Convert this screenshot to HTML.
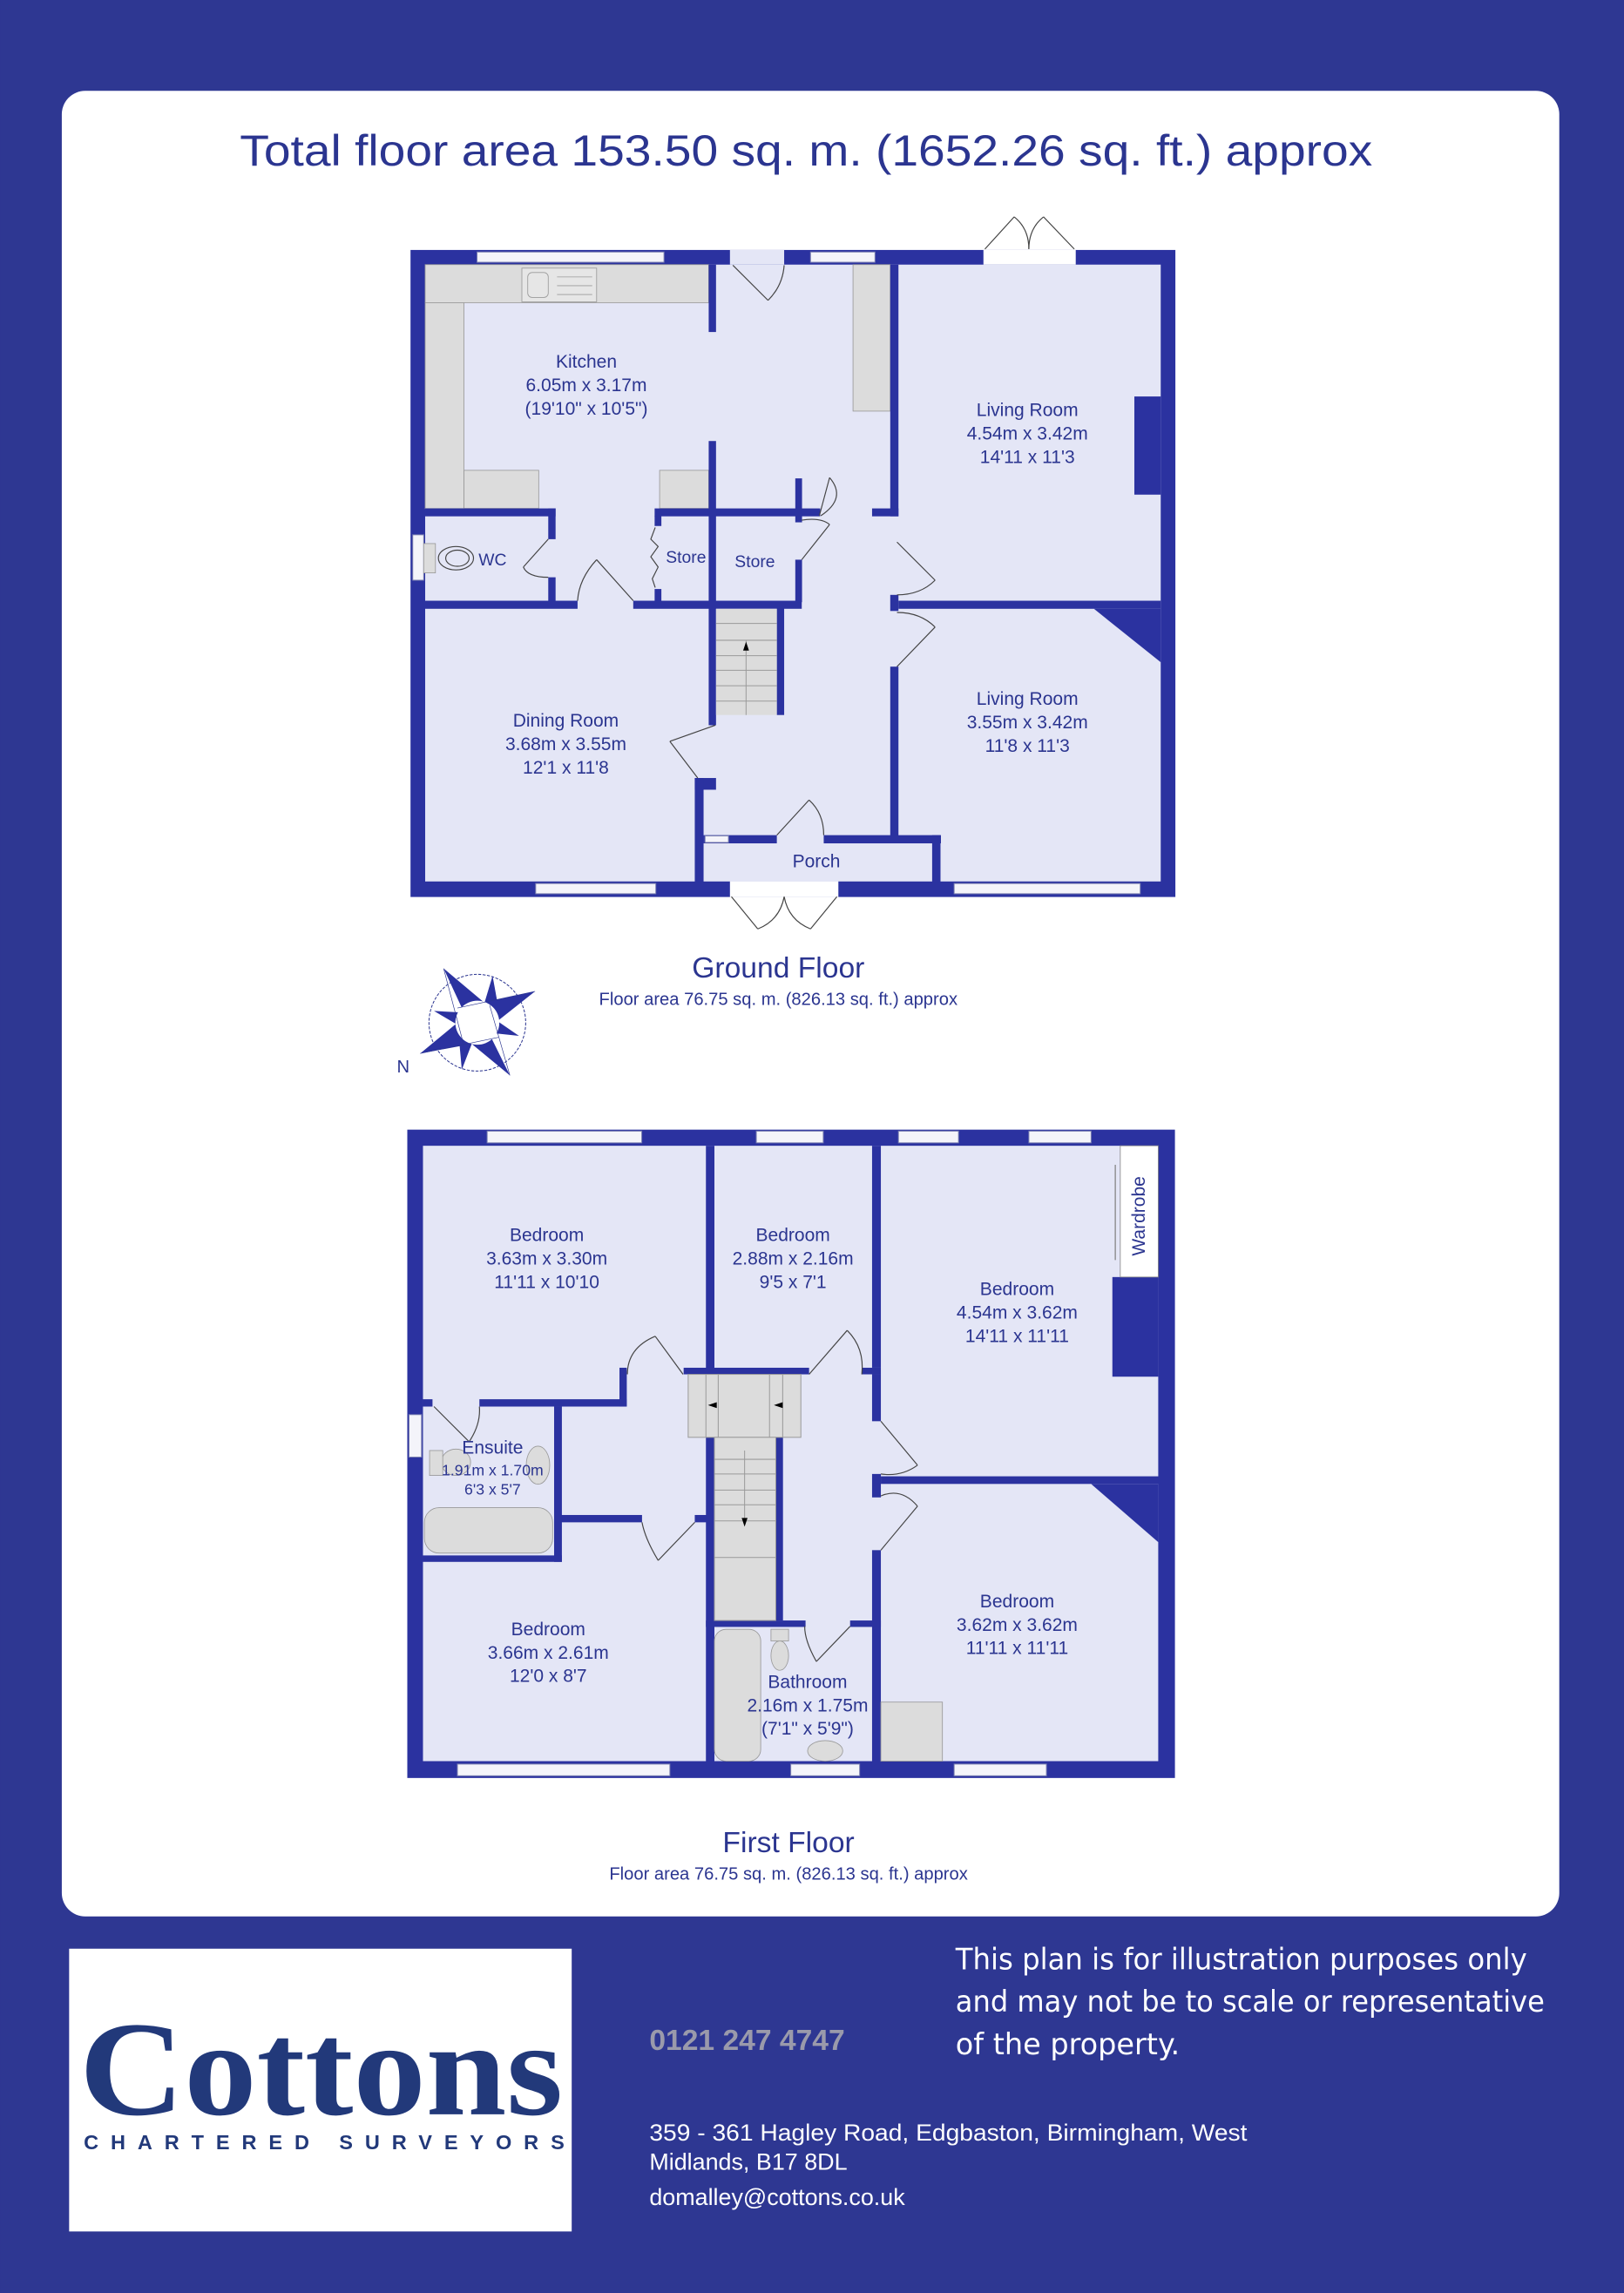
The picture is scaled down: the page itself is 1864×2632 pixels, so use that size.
<!DOCTYPE html>
<html><head><meta charset="utf-8">
<style>
html,body{margin:0;padding:0;background:#2e3792;}
svg{display:block;}
</style></head>
<body>
<svg width="1864" height="2632" viewBox="0 0 1108 1565" xmlns="http://www.w3.org/2000/svg" font-family="Liberation Sans, Arial, sans-serif">
<rect x="0" y="0" width="1108" height="1565" fill="#2e3792"/>
<rect x="42" y="62" width="1022" height="1246" rx="16" fill="#ffffff"/>
<text x="550" y="113" font-size="30" fill="#2b3590" text-anchor="middle" textLength="773" lengthAdjust="spacingAndGlyphs">Total floor area 153.50 sq. m. (1652.26 sq. ft.) approx</text>

<!-- ================= GROUND FLOOR ================= -->
<g>
<rect x="280" y="170.6" width="522" height="441.6" fill="#2b32a0"/>
<rect x="290" y="180.6" width="502" height="421" fill="#e4e6f6"/>
<g fill="#dcdcdc" stroke="#9a9a9a" stroke-width="0.5">
<rect x="290" y="180.6" width="193.5" height="26"/>
<rect x="290" y="206.6" width="26.5" height="140.5"/>
<rect x="316.5" y="321" width="51" height="26"/>
<rect x="450" y="321" width="33.5" height="26"/>
<rect x="582" y="180.6" width="25.4" height="100"/>
<rect x="356" y="183" width="51" height="23" fill="#e6e6e6"/>
<rect x="360" y="186" width="14" height="17" rx="3" fill="none"/>
<line x1="380" y1="189" x2="404" y2="189"/><line x1="380" y1="195" x2="404" y2="195"/><line x1="380" y1="201" x2="404" y2="201"/>
</g>
<g fill="#2b32a0">
<rect x="483.5" y="180.6" width="5" height="46"/>
<rect x="483.5" y="301" width="5" height="110"/>
<rect x="607.4" y="180.6" width="5.6" height="171.8"/>
<rect x="607.4" y="406" width="5.6" height="11"/>
<rect x="607.4" y="455" width="5.6" height="116"/>
<rect x="290" y="347" width="89" height="5.4"/>
<rect x="446.6" y="347" width="113" height="5.4"/>
<rect x="595" y="347" width="18" height="5.4"/>
<rect x="542.6" y="326.5" width="4.6" height="30"/>
<rect x="374" y="347" width="5" height="21"/>
<rect x="374" y="394" width="5" height="17"/>
<rect x="290" y="410" width="104" height="5.5"/>
<rect x="432" y="410" width="115" height="5.5"/>
<rect x="446.6" y="352" width="4.6" height="7"/>
<rect x="446.6" y="402" width="4.6" height="9"/>
<rect x="542.6" y="382" width="4.6" height="29"/>
<rect x="613" y="410" width="179" height="5.5"/>
<rect x="774" y="270.6" width="18" height="67"/>
<polygon points="746.4,415.5 792,415.5 792,452"/>
<rect x="483.5" y="415" width="5" height="80"/>
<rect x="530" y="415" width="5" height="73"/>
<rect x="474" y="531" width="14.5" height="8"/>
<rect x="474" y="531" width="6" height="71"/>
<rect x="480" y="570" width="50" height="5.6"/>
<rect x="562" y="570" width="80" height="5.6"/>
<rect x="636" y="570" width="5.7" height="32"/>
</g>
<rect x="488.5" y="415.5" width="41.5" height="72.5" fill="#dcdcdc"/>
<g stroke="#9a9a9a" stroke-width="0.6">
<line x1="488.5" y1="425.5" x2="530" y2="425.5"/><line x1="488.5" y1="437" x2="530" y2="437"/>
<line x1="488.5" y1="447.5" x2="530" y2="447.5"/><line x1="488.5" y1="457.5" x2="530" y2="457.5"/>
<line x1="488.5" y1="468" x2="530" y2="468"/><line x1="488.5" y1="478.5" x2="530" y2="478.5"/>
<line x1="509" y1="437" x2="509" y2="488"/>
</g>
<polygon points="509,438 507,444 511,444" fill="#000"/>
<g fill="#f4f4fa" stroke="#7a7fb0" stroke-width="0.6">
<rect x="325.4" y="172" width="127.6" height="7"/>
<rect x="553" y="172" width="44" height="7"/>
<rect x="365.4" y="603" width="82" height="7"/>
<rect x="651" y="603" width="127" height="7"/>
<rect x="281.5" y="365" width="7.5" height="31"/>
<rect x="481" y="570.5" width="16" height="4.5"/>
</g>
<rect x="498" y="170.6" width="37" height="10" fill="#e4e6f6"/>
<rect x="671" y="170.6" width="63" height="10" fill="#ffffff"/>
<rect x="498" y="601.5" width="74" height="10.7" fill="#ffffff"/>
<g fill="none" stroke="#444" stroke-width="0.7">
<line x1="500" y1="181" x2="524" y2="205"/><path d="M524,205 Q534,195 535,181"/>
<line x1="672" y1="170" x2="692" y2="148"/><path d="M692,148 Q702,156 702,170"/>
<line x1="733" y1="170" x2="712" y2="148"/><path d="M712,148 Q702,156 702,170"/>
<line x1="612" y1="370" x2="638" y2="396"/><path d="M638,396 Q628,406 612,406"/>
<line x1="612" y1="455" x2="638" y2="428"/><path d="M638,428 Q628,418 612,418"/>
<line x1="559" y1="352" x2="566" y2="326"/><path d="M566,326 Q578,340 560,352" />
<line x1="547" y1="382" x2="566" y2="358"/><path d="M566,358 Q560,353 547,355"/>
<line x1="374" y1="368" x2="357" y2="387"/><path d="M357,387 Q360,394 374,394"/>
<line x1="432" y1="410" x2="407" y2="382"/><path d="M407,382 Q395,395 394,410"/>
<path d="M447,360 L444,368 L449,373 L444,380 L449,387 L445,395 L447,401"/>
<line x1="488" y1="495" x2="457" y2="506"/><line x1="457" y1="506" x2="476" y2="531"/>
<line x1="530" y1="570" x2="552" y2="546"/><path d="M552,546 Q562,555 562,570"/>
<line x1="499" y1="612" x2="517" y2="634"/><path d="M517,634 Q532,628 535,612"/>
<line x1="571" y1="612" x2="553" y2="634"/><path d="M553,634 Q538,628 535,612"/>
<ellipse cx="311" cy="381" rx="12" ry="8"/><ellipse cx="312" cy="381" rx="8" ry="5.5"/>
</g>
<rect x="289" y="371" width="8" height="20" fill="#dcdcdc" stroke="#999" stroke-width="0.5"/>
<g fill="#2b3590" font-size="12.5" text-anchor="middle">
<text x="400" y="251">Kitchen</text><text x="400" y="267">6.05m x 3.17m</text><text x="400" y="283">(19'10" x 10'5")</text>
<text x="701" y="284">Living Room</text><text x="701" y="300">4.54m x 3.42m</text><text x="701" y="316">14'11 x 11'3</text>
<text x="701" y="481">Living Room</text><text x="701" y="497">3.55m x 3.42m</text><text x="701" y="513">11'8 x 11'3</text>
<text x="386" y="496">Dining Room</text><text x="386" y="512">3.68m x 3.55m</text><text x="386" y="528">12'1 x 11'8</text>
<text x="336" y="386" font-size="11.5">WC</text>
<text x="468" y="384" font-size="11.5">Store</text>
<text x="515" y="387" font-size="11.5">Store</text>
<text x="557" y="592">Porch</text>
</g>
<text x="531" y="667" font-size="20" fill="#2b3590" text-anchor="middle">Ground Floor</text>
<text x="531" y="686" font-size="12" fill="#2b3590" text-anchor="middle">Floor area 76.75 sq. m. (826.13 sq. ft.) approx</text>
</g>

<!-- compass -->
<g>
<circle cx="325.6" cy="698" r="33" fill="none" stroke="#2b3590" stroke-width="0.6" stroke-dasharray="2,1"/>
<g fill="#2b32a0">
<polygon points="302.6,661 330,684 316,690"/>
<polygon points="365,676.6 338,698 331,684"/>
<polygon points="347.8,734 333,704 320,711"/>
<polygon points="286.6,719 312,698 319,713"/>
<polygon points="336,666 340,688 330,686"/>
<polygon points="354,707 335,705 338,696"/>
<polygon points="315,730 313,708 322,712"/>
<polygon points="296,690 315,691 313,700"/>
</g>
<circle cx="325.6" cy="698" r="15" fill="#fff"/>
<g stroke="#2b3590" stroke-width="0.4"><line x1="302.6" y1="661" x2="316" y2="712"/><line x1="365" y1="676.6" x2="312" y2="688"/><line x1="347.8" y1="734" x2="334" y2="686"/><line x1="286.6" y1="719" x2="340" y2="708"/></g>
<text x="275" y="732" font-size="12" fill="#2b3590" text-anchor="middle">N</text>
</g>

<!-- ================= FIRST FLOOR ================= -->
<g>
<rect x="277.8" y="771" width="523.9" height="442.5" fill="#2b32a0"/>
<rect x="288.5" y="782" width="501.8" height="420" fill="#e4e6f6"/>
<g fill="#2b32a0">
<rect x="481.6" y="782" width="5.8" height="156"/>
<rect x="595" y="782" width="6" height="151.5"/>
<rect x="595" y="938" width="6" height="32"/>
<rect x="595" y="1006" width="6" height="16"/>
<rect x="595" y="1058" width="6" height="150"/>
<rect x="601" y="1007.6" width="190" height="5.2"/>
<rect x="759" y="871.6" width="31.3" height="68"/>
<polygon points="744.5,1012.8 790.3,1012.8 790.3,1052.5"/>
<rect x="288.5" y="955" width="6.5" height="5"/>
<rect x="327" y="955" width="100.5" height="5"/>
<rect x="422.6" y="933.5" width="5" height="26.5"/>
<rect x="466.4" y="933.5" width="85.6" height="4.5"/>
<rect x="588" y="933.5" width="13" height="4.5"/>
<rect x="378" y="960" width="5.3" height="106"/>
<rect x="288.5" y="1061.6" width="94.8" height="4.4"/>
<rect x="383" y="1034" width="55" height="5"/>
<rect x="474" y="1034" width="13.4" height="5"/>
<rect x="481.6" y="981" width="5.8" height="125"/>
<rect x="529.3" y="981" width="4.9" height="125"/>
<rect x="481.6" y="1106" width="68" height="4.4"/>
<rect x="580" y="1106" width="21" height="4.4"/>
<rect x="481.6" y="1106" width="5.8" height="100"/>
</g>
<rect x="764.4" y="782" width="25.9" height="89.6" fill="#fff" stroke="#888" stroke-width="0.5"/>
<line x1="761" y1="795" x2="761" y2="860" stroke="#888" stroke-width="0.8"/>
<text x="0" y="0" font-size="12.5" fill="#2b3590" text-anchor="middle" transform="translate(781,830) rotate(-90)">Wardrobe</text>
<g fill="#dcdcdc" stroke="#9a9a9a" stroke-width="0.6">
<rect x="469.5" y="938" width="76.9" height="43"/>
<line x1="481.6" y1="938" x2="481.6" y2="981"/><line x1="490" y1="938" x2="490" y2="981"/>
<line x1="525" y1="938" x2="525" y2="981"/><line x1="534" y1="938" x2="534" y2="981"/>
<rect x="487.4" y="981" width="41.9" height="125"/>
<line x1="487.4" y1="996" x2="529.3" y2="996"/><line x1="487.4" y1="1006" x2="529.3" y2="1006"/>
<line x1="487.4" y1="1017" x2="529.3" y2="1017"/><line x1="487.4" y1="1027" x2="529.3" y2="1027"/>
<line x1="487.4" y1="1038" x2="529.3" y2="1038"/><line x1="487.4" y1="1063" x2="529.3" y2="1063"/>
<line x1="508" y1="990" x2="508" y2="1040"/>
</g>
<polygon points="508,1042 506,1036 510,1036" fill="#000"/>
<polygon points="483,959 489,957 489,961" fill="#000"/>
<polygon points="528,959 534,957 534,961" fill="#000"/>
<g fill="#dcdcdc" stroke="#999" stroke-width="0.5">
<rect x="487.4" y="1112" width="31.6" height="90" rx="8"/>
<rect x="601" y="1161.7" width="42" height="40.3"/>
<rect x="289.5" y="1029" width="87.5" height="31" rx="10"/>
<ellipse cx="532" cy="1130" rx="6" ry="10"/><rect x="526" y="1112" width="12" height="8"/>
<ellipse cx="563" cy="1195" rx="12" ry="7"/>
<ellipse cx="311" cy="998" rx="10" ry="9"/><rect x="293" y="990" width="9" height="17"/>
<ellipse cx="367" cy="1000" rx="8" ry="13"/>
</g>
<g fill="#f4f4fa" stroke="#7a7fb0" stroke-width="0.6">
<rect x="332.3" y="772" width="105.5" height="8"/>
<rect x="516" y="772" width="45.7" height="8"/>
<rect x="613" y="772" width="41" height="8"/>
<rect x="702" y="772" width="42.5" height="8"/>
<rect x="312" y="1204" width="145" height="8"/>
<rect x="539.5" y="1204" width="47" height="8"/>
<rect x="651" y="1204" width="63" height="8"/>
<rect x="279" y="965.5" width="8.5" height="29"/>
</g>
<g fill="none" stroke="#444" stroke-width="0.7">
<line x1="466" y1="938" x2="447" y2="912"/><path d="M447,912 Q428,920 428,938"/>
<line x1="552" y1="938" x2="578" y2="908"/><path d="M578,908 Q590,920 588,938"/>
<line x1="601" y1="970" x2="626" y2="1000"/><path d="M626,1000 Q615,1008 601,1006"/>
<line x1="601" y1="1058" x2="626" y2="1028"/><path d="M626,1028 Q615,1015 601,1021"/>
<line x1="474" y1="1039" x2="449" y2="1065"/><path d="M449,1065 Q440,1050 438,1039"/>
<line x1="580" y1="1110" x2="557" y2="1134"/><path d="M557,1134 Q549,1120 549,1110"/>
<line x1="296" y1="960" x2="320" y2="984"/><path d="M320,984 Q328,972 327,960"/>
</g>
<g fill="#2b3590" font-size="12.5" text-anchor="middle">
<text x="373" y="847">Bedroom</text><text x="373" y="863">3.63m x 3.30m</text><text x="373" y="879">11'11 x 10'10</text>
<text x="541" y="847">Bedroom</text><text x="541" y="863">2.88m x 2.16m</text><text x="541" y="879">9'5 x 7'1</text>
<text x="694" y="884">Bedroom</text><text x="694" y="900">4.54m x 3.62m</text><text x="694" y="916">14'11 x 11'11</text>
<text x="694" y="1097">Bedroom</text><text x="694" y="1113">3.62m x 3.62m</text><text x="694" y="1129">11'11 x 11'11</text>
<text x="374" y="1116">Bedroom</text><text x="374" y="1132">3.66m x 2.61m</text><text x="374" y="1148">12'0 x 8'7</text>
<text x="551" y="1152">Bathroom</text><text x="551" y="1168">2.16m x 1.75m</text><text x="551" y="1184">(7'1" x 5'9")</text>
<text x="336" y="992">Ensuite</text>
<text x="336" y="1007" font-size="10.5">1.91m x 1.70m</text>
<text x="336" y="1020" font-size="10.5">6'3 x 5'7</text>
</g>
<text x="538" y="1264" font-size="20" fill="#2b3590" text-anchor="middle">First Floor</text>
<text x="538" y="1283" font-size="12" fill="#2b3590" text-anchor="middle">Floor area  76.75 sq. m. (826.13 sq. ft.) approx</text>
</g>

<!-- ================= FOOTER ================= -->
<rect x="47" y="1330" width="343" height="193" fill="#ffffff"/>
<text x="219" y="1443" style="font-family:'Liberation Serif',serif" font-weight="bold" font-size="92" fill="#22397a" text-anchor="middle" textLength="330" lengthAdjust="spacingAndGlyphs">Cottons</text>
<text x="221" y="1467" font-size="14" font-weight="bold" fill="#22397a" text-anchor="middle" textLength="328" lengthAdjust="spacing">CHARTERED SURVEYORS</text>
<text x="443" y="1399" font-size="20" font-weight="bold" fill="#9a9aab">0121 247 4747</text>
<g style="font-family:'DejaVu Sans Condensed','DejaVu Sans',sans-serif" font-size="20" fill="#ffffff">
<text x="652" y="1344" textLength="390" lengthAdjust="spacingAndGlyphs">This plan is for illustration purposes only</text>
<text x="652" y="1373" textLength="402" lengthAdjust="spacingAndGlyphs">and may not be to scale or representative</text>
<text x="652" y="1402" textLength="153" lengthAdjust="spacingAndGlyphs">of the property.</text>
</g>
<text x="443" y="1461" font-size="16" fill="#ffffff" textLength="408" lengthAdjust="spacingAndGlyphs">359 - 361 Hagley Road, Edgbaston, Birmingham, West</text>
<text x="443" y="1481" font-size="16" fill="#ffffff">Midlands, B17 8DL</text>
<text x="443" y="1505" font-size="16" fill="#ffffff">domalley@cottons.co.uk</text>
</svg>
</body></html>
